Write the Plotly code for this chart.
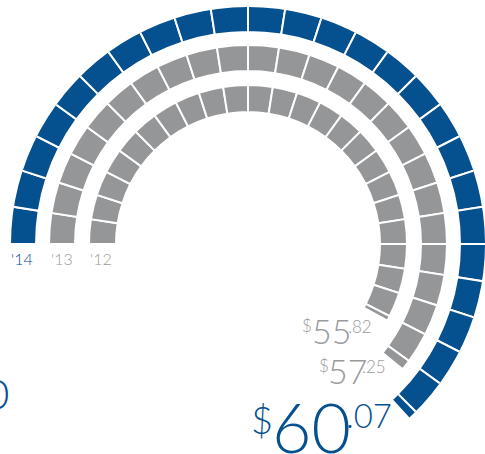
import math
import plotly.graph_objects as go

# ---- data ----
years = ["'14", "'13", "'12"]
values = [60.07, 57.25, 55.82]
arc_extent_deg = [227.3, 219.0, 208.8]   # angular extent of each ring's filled arc

# ---- styling / layout constants ----
W, H = 485, 454
CX, CY = 248, 244          # ring centre in pixels (from top-left)
R_PLOT = 237               # polar radius in px
SEG = 9.0                  # degrees per segment
BLUE = "#05508e"
GRAY_RING = "#959698"
GRAY_TEXT = "#9a9b9d"
ring_colors = [BLUE, GRAY_RING, GRAY_RING]
label_colors = [BLUE, GRAY_TEXT, GRAY_TEXT]
ring_radii = [(212, 239), (173, 199), (132, 159)]  # inner/outer (incl. 1px stroke)
FONT = "Lato"

fig = go.Figure()

for extent, color, (r0, r1), yr in zip(arc_extent_deg, ring_colors, ring_radii, years):
    n_full = int(extent // SEG)
    rem = extent - n_full * SEG
    thetas = [SEG * i + SEG / 2 for i in range(n_full)]
    widths = [SEG] * n_full
    if rem > 0.05:
        thetas.append(SEG * n_full + rem / 2)
        widths.append(rem)
    fig.add_trace(go.Barpolar(
        theta=thetas, width=widths,
        r=[r1 - r0] * len(thetas), base=[r0] * len(thetas),
        marker=dict(color=color, line=dict(color="white", width=2)),
        name=yr, hoverinfo="skip", showlegend=False,
    ))

sin_low = math.sin(math.radians(50))
fig.update_layout(
    width=W, height=H,
    margin=dict(l=0, r=0, t=0, b=0, pad=0),
    paper_bgcolor="white", plot_bgcolor="white",
    showlegend=False,
    polar=dict(
        domain=dict(x=[(CX - R_PLOT) / W, min(1, (CX + R_PLOT) / W)],
                    y=[1 - (CY + R_PLOT * sin_low) / H, 1 - (CY - R_PLOT) / H]),
        sector=[-50, 180],
        bgcolor="rgba(0,0,0,0)",
        barmode="overlay",
        radialaxis=dict(range=[0, R_PLOT], visible=False, showgrid=False,
                        showline=False, showticklabels=False, ticks=""),
        angularaxis=dict(rotation=180, direction="clockwise", visible=False,
                         showgrid=False, showline=False, showticklabels=False,
                         ticks=""),
    ),
)


def txt(text, x, y, size, color, anchor="left", weight=300):
    fig.add_annotation(text=text, x=x / W, y=1 - y / H, xref="paper", yref="paper",
                       xanchor=anchor, yanchor="middle", showarrow=False,
                       font=dict(family=FONT, size=size, color=color, weight=weight),
                       borderpad=0)

# year labels under the ring starts
for yr, col, xc in zip(years, label_colors, [22, 62, 101]):
    txt(yr, xc, 258, 16, col, anchor="center")

# value labels: "$", whole part, cents
layouts = [  # ($x,$y,$size, int_x,int_y,int_size, c_x,c_y,c_size)
    (250, 419, 38, 271, 426, 68, 345, 415, 33),
    (318, 365, 17, 327, 370, 34, 361, 366, 17),
    (301, 325, 17, 311, 330, 34, 347, 326, 17),
]
for v, col, L in zip(values, label_colors, layouts):
    whole, cents = f"{v:.2f}".split(".")
    txt("$", L[0], L[1], L[2], col)
    txt(whole, L[3], L[4], L[5], col)
    txt("." + cents, L[6], L[7], L[8], col)

# partially visible figure at the left edge (cropped in the original)
txt("0", 10, 393, 42, BLUE, anchor="right")

fig.write_html("out.html", config={"displayModeBar": False},
               post_script="document.body.style.margin='0';document.body.style.overflow='hidden';")
